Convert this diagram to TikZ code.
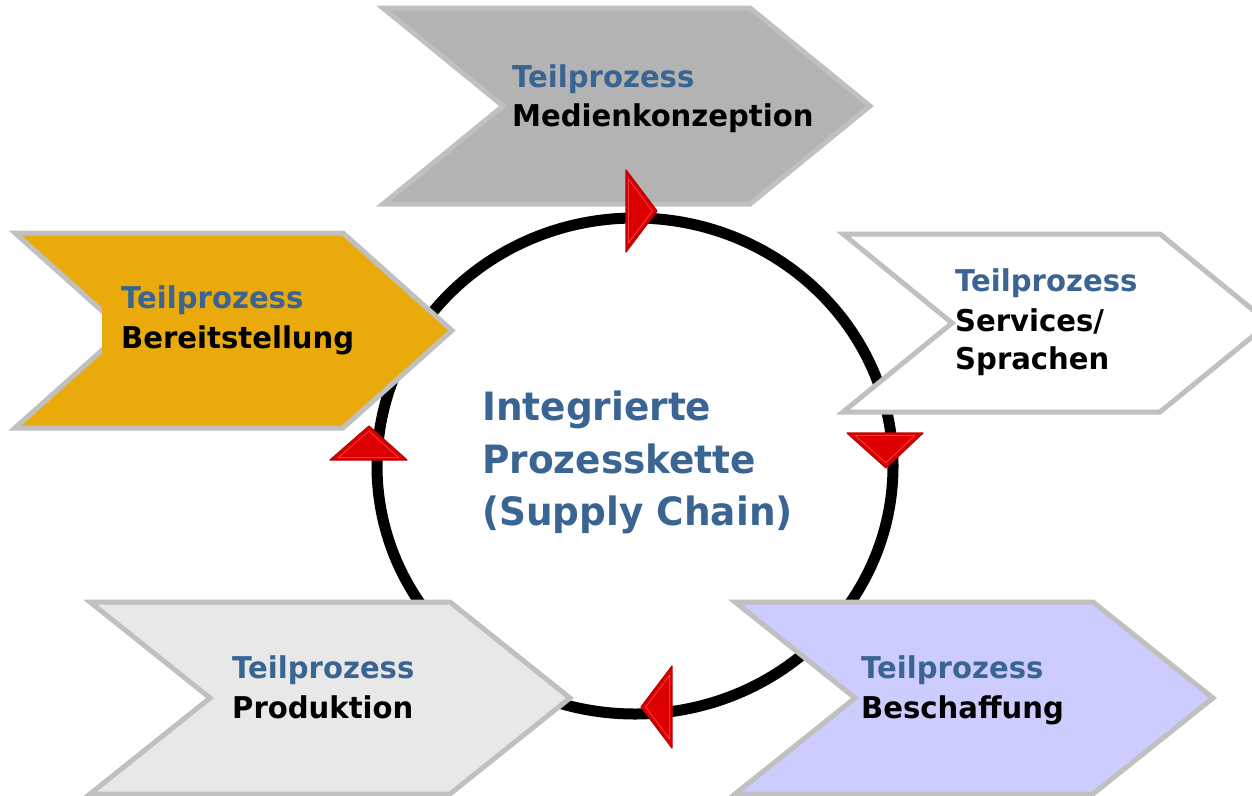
\documentclass[tikz,border=0pt]{standalone}
\usepackage{fontspec}
\setmainfont{DejaVu Sans}
\newfontfamily\chevfont[FakeStretch=0.97]{DejaVu Sans}
\newfontfamily\ipkfont[FakeStretch=0.96]{DejaVu Sans}
\usepackage{xcolor}
\usetikzlibrary{calc}

\definecolor{tealblue}{RGB}{58,100,145}
\definecolor{chevgray}{RGB}{192,192,192}
\definecolor{medgray}{RGB}{179,179,179}
\definecolor{bereitorange}{RGB}{234,170,11}
\definecolor{prodgray}{RGB}{232,232,232}
\definecolor{beschlilac}{RGB}{204,204,255}
\definecolor{tipred}{RGB}{221,0,0}
\definecolor{tipdark}{RGB}{185,0,0}
\definecolor{tipglow}{RGB}{240,95,95}

\begin{document}
\begin{tikzpicture}[x=1pt,y=-1pt,
    chevron/.style={draw=chevgray,line width=5pt,line join=miter},
    label/.style={anchor=base west,inner sep=0pt,font=\chevfont\bfseries\fontsize{30}{30}\selectfont},
    head/.style={label,text=tealblue},
    title/.style={anchor=base west,inner sep=0pt,text=tealblue,font=\ipkfont\bfseries\fontsize{39}{39}\selectfont},
    redtip/.style={fill=tipred,draw=tipdark,line width=1.2pt,line join=round},
    redglow/.style={draw=tipglow,line width=0.5pt,line join=round}]
    \useasboundingbox (0,0) rectangle (1252,795);
    \clip (0,0) rectangle (1252,795);

    % cycle
    \draw[line width=11pt] (635,466) ellipse [x radius=258, y radius=248];

    % chevrons
    \filldraw[chevron,fill=medgray] (383,8) -- (750,8) -- (870,106) -- (750,204) -- (383,204) -- (503,106) -- cycle;
    \filldraw[chevron,fill=bereitorange] (15,233) -- (343,233) -- (452,330.5) -- (343,428) -- (15,428) -- (124,330.5) -- cycle;
    \fill[bereitorange] (102,308) rectangle (140,353);
    \filldraw[chevron,fill=white] (843,234) -- (1160,234) -- (1269,323) -- (1160,412) -- (843,412) -- (952,323) -- cycle;
    \filldraw[chevron,fill=prodgray] (90,602) -- (450,602) -- (570,698) -- (450,794) -- (90,794) -- (210,698) -- cycle;
    \filldraw[chevron,fill=beschlilac] (735,602) -- (1093,602) -- (1213,698) -- (1093,794) -- (735,794) -- (855,698) -- cycle;

    % arrowheads on the cycle
    \foreach \a/\b/\c/\m in {{(626,170)}/{(626,252)}/{(657,211)}/{(636.3,211)},
                             {(847,433)}/{(923,433)}/{(886,468)}/{(885.3,444.7)},
                             {(672,666)}/{(672,748)}/{(641,707)}/{(661.7,707)},
                             {(330,460)}/{(407,460)}/{(369,426)}/{(368.7,448.7)}}{
        \filldraw[redtip] \a -- \b -- \c -- cycle;
        \draw[redglow,scale around={0.78:\m}] \a -- \b -- \c -- cycle;
    }

    % texts
    \node[head] (medT) at (512,87) {Teilprozess};
    \node[label] (medN) at ([yshift=-39pt]medT.base west) {Medienkonzeption};

    \node[head] (berT) at (121,308) {Teilprozess};
    \node[label] (berN) at ([yshift=-40pt]berT.base west) {Bereitstellung};

    \node[head] (serT) at (955,291) {Teilprozess};
    \node[label] (serN) at ([yshift=-40pt]serT.base west) {Services/};
    \node[label] (serS) at ([yshift=-38pt]serN.base west) {Sprachen};

    \node[head] (proT) at (232,678) {Teilprozess};
    \node[label] (proN) at ([yshift=-40pt]proT.base west) {Produktion};

    \node[head] (besT) at (861,678) {Teilprozess};
    \node[label] (besN) at ([yshift=-40pt]besT.base west) {Beschaffung};

    \node[title] (ipk1) at (482,420) {Integrierte};
    \node[title] (ipk2) at ([yshift=-53pt]ipk1.base west) {Prozesskette};
    \node[title] (ipk3) at ([yshift=-52pt]ipk2.base west) {(Supply Chain)};
\end{tikzpicture}
\end{document}
